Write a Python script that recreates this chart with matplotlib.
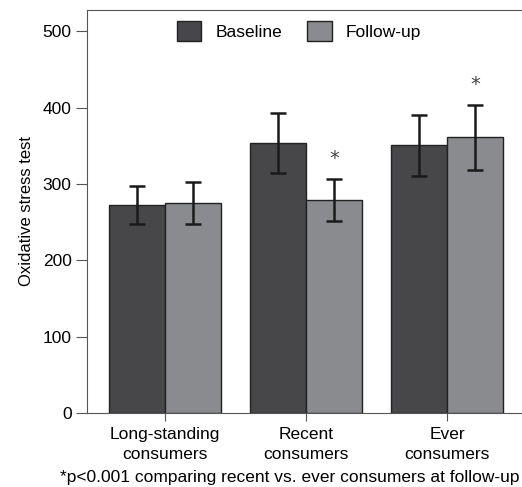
import matplotlib.pyplot as plt
import numpy as np

plt.rcParams['font.family'] = ['Liberation Sans', 'DejaVu Sans']

groups = ["Long-standing\nconsumers", "Recent\nconsumers", "Ever\nconsumers"]
baseline = [273, 354, 351]
baseline_err = [25, 39, 40]
followup = [275, 279, 361]
followup_err = [28, 28, 43]
starred = [False, True, True]  # follow-up bars marked with *

dark = "#47474a"
light = "#8a8b8e"

fig = plt.figure(figsize=(5.22, 4.87), dpi=100)
ax = fig.add_axes([87/522, 74/487, 438/522, 403/487])

x = np.arange(len(groups))
w = 0.4
ax.bar(x - w/2, baseline, w, yerr=baseline_err, color=dark, edgecolor="#222222",
       linewidth=1, label="Baseline", error_kw=dict(ecolor="#1a1a1a", elinewidth=1.8, capsize=6, capthick=1.8))
ax.bar(x + w/2, followup, w, yerr=followup_err, color=light, edgecolor="#222222",
       linewidth=1, label="Follow-up", error_kw=dict(ecolor="#1a1a1a", elinewidth=1.8, capsize=6, capthick=1.8))

for i in range(len(groups)):
    if starred[i]:
        ax.text(x[i] + w/2, followup[i] + followup_err[i] + 14, "*", ha="center",
                va="bottom", fontsize=14, color="#444444", family="DejaVu Sans")

ax.set_xlim(-0.553, 2.553)
ax.set_ylim(0, 528)
ax.set_yticks([0, 100, 200, 300, 400, 500])
ax.set_xticks(x)
ax.set_xticklabels(groups, fontsize=12.5, linespacing=1.4)
ax.tick_params(axis="y", labelsize=12.5, length=8, color="#555555", pad=3)
ax.tick_params(axis="x", length=6, color="#555555", pad=4)
for s in ax.spines.values():
    s.set_color("#555555")
ax.spines["right"].set_visible(False)
ax.set_ylabel("Oxidative stress test", fontsize=12, labelpad=6)

ax.legend(loc="upper center", bbox_to_anchor=(0.484, 1.012), ncol=2, frameon=False,
          fontsize=12.5, handlelength=1.4, handleheight=1.4, columnspacing=1.45, handletextpad=0.8)

fig.text(0.555, 0.004, "*p<0.001 comparing recent vs. ever consumers at follow-up",
         ha="center", va="bottom", fontsize=12.5)

fig.savefig("out.png", dpi=100)
